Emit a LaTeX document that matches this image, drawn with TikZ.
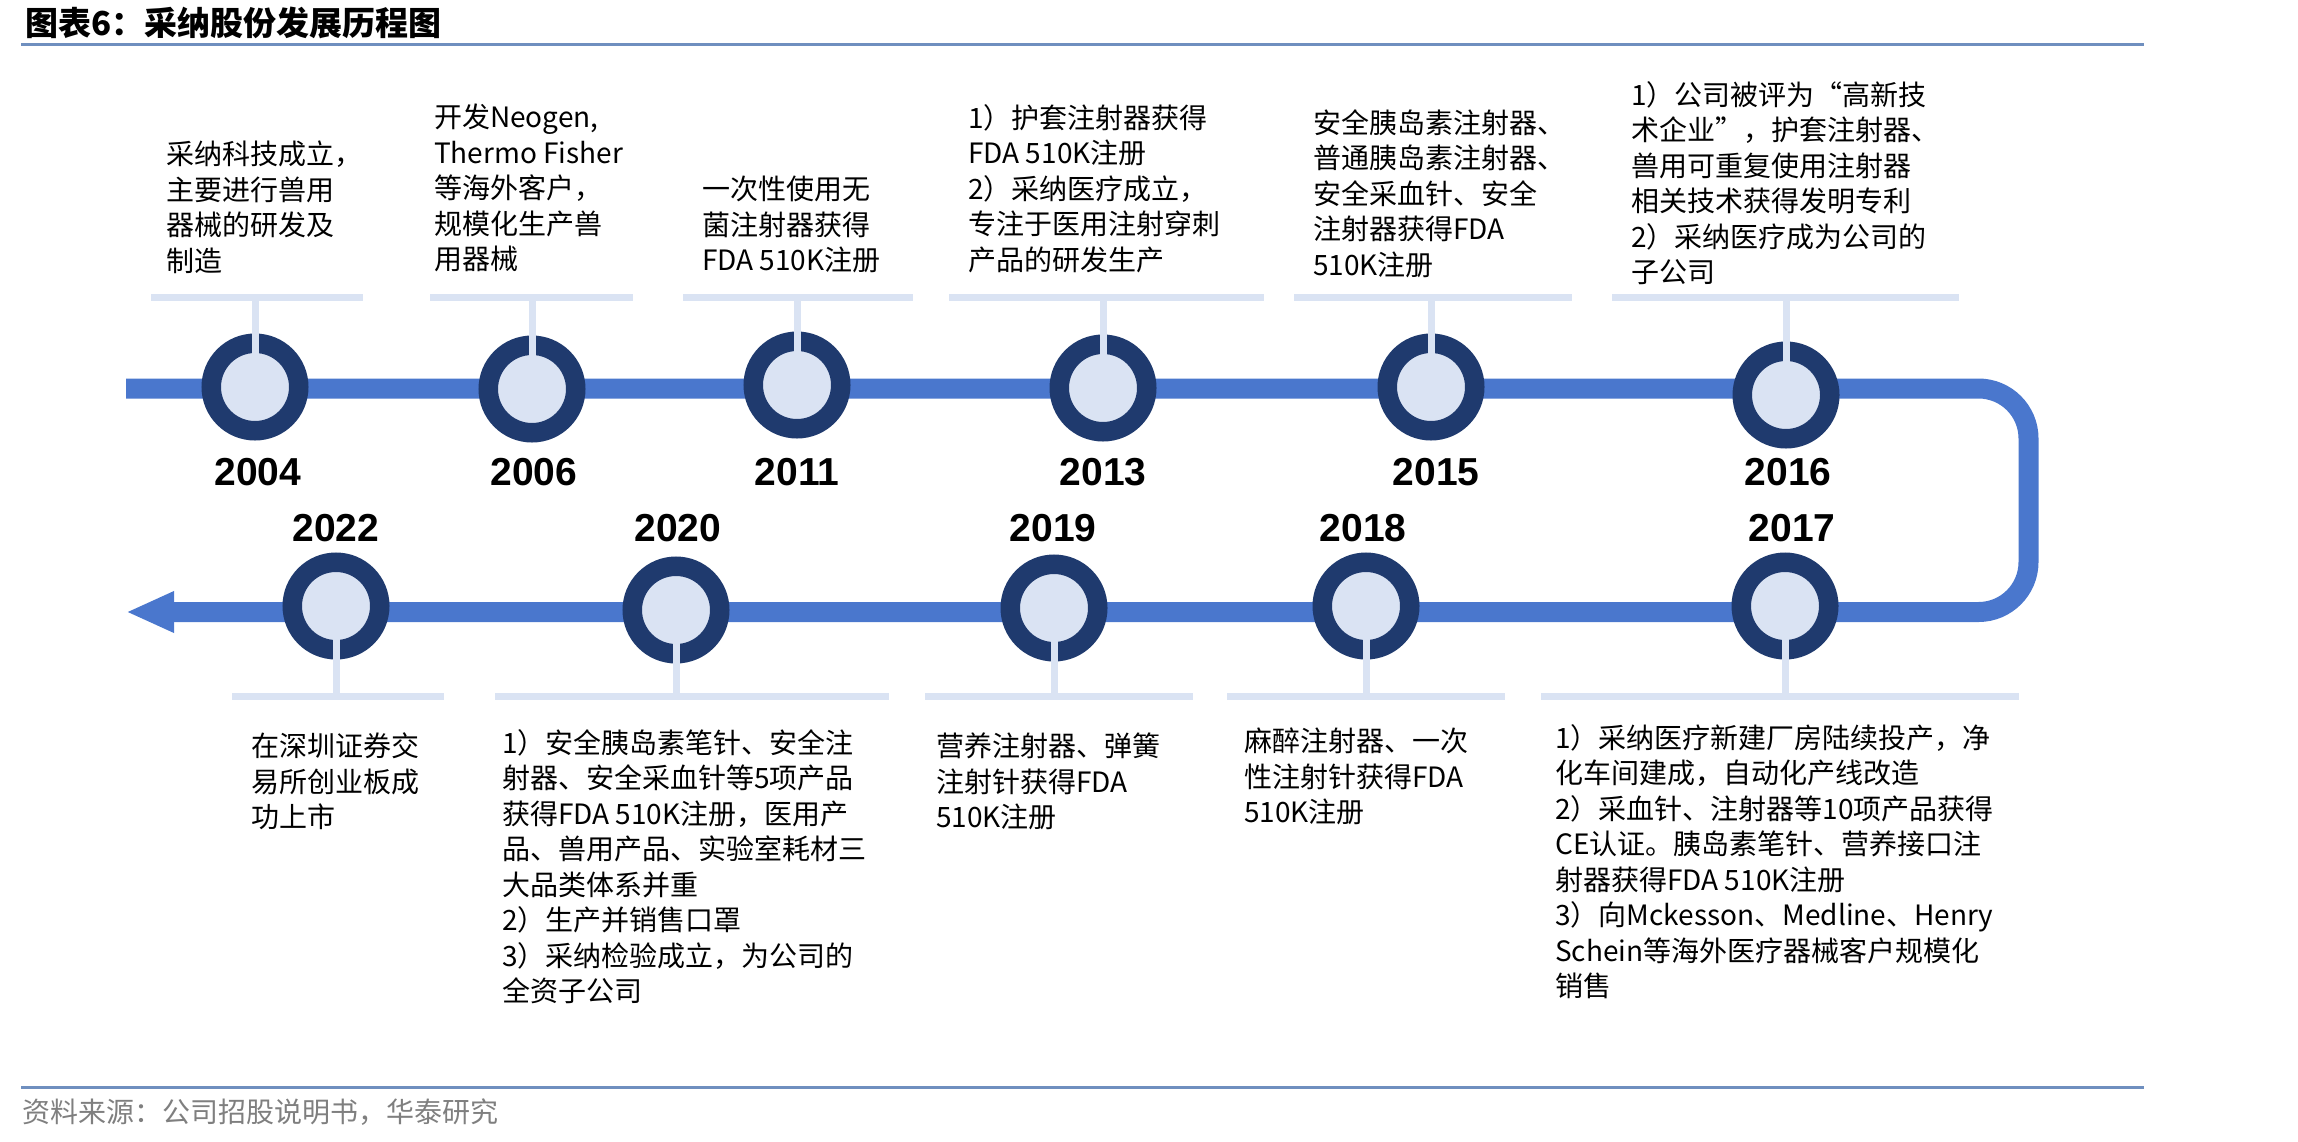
\documentclass[tikz,border=0pt]{standalone}
\usepackage{fontspec}
\setmainfont{Noto Sans CJK SC}
\newfontfamily\YearFont{Liberation Sans}
\usepackage{tikz}
\usetikzlibrary{arrows.meta,calc}
\definecolor{trackblue}{HTML}{4A77CD}
\definecolor{ringnavy}{HTML}{1F3A6E}
\definecolor{palefill}{HTML}{DAE3F3}
\definecolor{rulesteel}{HTML}{6F8FBF}
\definecolor{srcgray}{HTML}{7F7F7F}

\begin{document}
\begin{tikzpicture}[x=1pt,y=-1pt,
  track/.style={draw=trackblue,line width=20pt,rounded corners=50pt},
  ring/.style={circle,draw=ringnavy,fill=palefill,line width=19.5pt,minimum size=87.5pt,inner sep=0pt},
  stem/.style={draw=palefill,line width=7pt},
  shelf/.style={draw=palefill,line width=7pt},
  yearlbl/.style={font=\YearFont\bfseries\fontsize{39}{39}\selectfont,inner sep=0pt},
  note/.style={font=\fontsize{28}{35.5}\selectfont,align=left,anchor=north west,inner sep=0pt}]
\useasboundingbox (0,0) rectangle (2298,1141);
% header and footer
\node[anchor=west,inner sep=0pt,font=\bfseries\fontsize{33}{33}\selectfont] (title) at (25,23) {图表6：采纳股份发展历程图};
\draw[rulesteel,line width=3pt] (21,44) -- (2144,44);
\draw[rulesteel,line width=3pt] (21,1087) -- (2144,1087);
\node[anchor=west,inner sep=0pt,text=srcgray,font=\fontsize{28}{28}\selectfont] (source) at (22,1112) {资料来源：公司招股说明书，华泰研究};
% the winding track, ending in an arrow on the left
\draw[track,-{Triangle[length=48pt,width=38pt]}] (126,388.5) -- (2028.5,388.5) -- (2028.5,612) -- (126,612);
% upper row
\node[ring] (c2004) at (255,387) {};
\node[ring] (c2006) at (532,389) {};
\node[ring] (c2011) at (797,385) {};
\node[ring] (c2013) at (1103,388) {};
\node[ring] (c2015) at (1431,387) {};
\node[ring] (c2016) at (1786,395) {};
\coordinate (k2004) at (255,297);
\coordinate (k2006) at (532,297);
\coordinate (k2011) at (797,297);
\coordinate (k2013) at (1103,297);
\coordinate (k2015) at (1431,297);
\coordinate (k2016) at (1786,297);
\draw[stem] (k2004) -- (c2004.center);
\draw[stem] (k2006) -- (c2006.center);
\draw[stem] (k2011) -- (c2011.center);
\draw[stem] (k2013) -- (c2013.center);
\draw[stem] (k2015) -- (c2015.center);
\draw[stem] (k2016) -- (c2016.center);
\draw[shelf] (151,297) -- (363,297);
\draw[shelf] (430,297) -- (633,297);
\draw[shelf] (683,297) -- (913,297);
\draw[shelf] (949,297) -- (1264,297);
\draw[shelf] (1294,297) -- (1572,297);
\draw[shelf] (1612,297) -- (1959,297);
\node[yearlbl] (y2004) at (258,472) {2004};
\node[yearlbl] (y2006) at (534,472) {2006};
\node[yearlbl] (y2011) at (797,472) {2011};
\node[yearlbl] (y2013) at (1103,472) {2013};
\node[yearlbl] (y2015) at (1436,472) {2015};
\node[yearlbl] (y2016) at (1788,472) {2016};
\node[note] (t2004) at (166,141) {采纳科技成立，\\主要进行兽用\\器械的研发及\\制造};
\node[note] (t2006) at (434,104) {开发Neogen,\\Thermo Fisher\\等海外客户，\\规模化生产兽\\用器械};
\node[note] (t2011) at (702,176) {一次性使用无\\菌注射器获得\\FDA 510K注册};
\node[note] (t2013) at (968,104) {1）护套注射器获得\\FDA 510K注册\\2）采纳医疗成立，\\专注于医用注射穿刺\\产品的研发生产};
\node[note] (t2015) at (1313,109) {安全胰岛素注射器、\\普通胰岛素注射器、\\安全采血针、安全\\注射器获得FDA\\510K注册};
\node[note] (t2016) at (1631,81) {1）公司被评为“高新技\\术企业”，护套注射器、\\兽用可重复使用注射器\\相关技术获得发明专利\\2）采纳医疗成为公司的\\子公司};
% lower row
\node[ring] (c2022) at (336,606) {};
\node[ring] (c2020) at (676,610) {};
\node[ring] (c2019) at (1054,608) {};
\node[ring] (c2018) at (1366,606) {};
\node[ring] (c2017) at (1785,606) {};
\coordinate (k2022) at (336,696);
\coordinate (k2020) at (676,696);
\coordinate (k2019) at (1054,696);
\coordinate (k2018) at (1366,696);
\coordinate (k2017) at (1785,696);
\draw[stem] (c2022.center) -- (k2022);
\draw[stem] (c2020.center) -- (k2020);
\draw[stem] (c2019.center) -- (k2019);
\draw[stem] (c2018.center) -- (k2018);
\draw[stem] (c2017.center) -- (k2017);
\draw[shelf] (232,696) -- (444,696);
\draw[shelf] (495,696) -- (889,696);
\draw[shelf] (925,696) -- (1193,696);
\draw[shelf] (1227,696) -- (1505,696);
\draw[shelf] (1541,696) -- (2019,696);
\node[yearlbl] (y2022) at (336,528) {2022};
\node[yearlbl] (y2020) at (678,528) {2020};
\node[yearlbl] (y2019) at (1053,528) {2019};
\node[yearlbl] (y2018) at (1363,528) {2018};
\node[yearlbl] (y2017) at (1792,528) {2017};
\node[note] (t2022) at (251,733) {在深圳证券交\\易所创业板成\\功上市};
\node[note] (t2020) at (502,729) {1）安全胰岛素笔针、安全注\\射器、安全采血针等5项产品\\获得FDA 510K注册，医用产\\品、兽用产品、实验室耗材三\\大品类体系并重\\2）生产并销售口罩\\3）采纳检验成立，为公司的\\全资子公司};
\node[note] (t2019) at (936,733) {营养注射器、弹簧\\注射针获得FDA\\510K注册};
\node[note] (t2018) at (1244,728) {麻醉注射器、一次\\性注射针获得FDA\\510K注册};
\node[note] (t2017) at (1555,724) {1）采纳医疗新建厂房陆续投产，净\\化车间建成，自动化产线改造\\2）采血针、注射器等10项产品获得\\CE认证。胰岛素笔针、营养接口注\\射器获得FDA 510K注册\\3）向Mckesson、Medline、Henry\\Schein等海外医疗器械客户规模化\\销售};
\end{tikzpicture}
\end{document}
